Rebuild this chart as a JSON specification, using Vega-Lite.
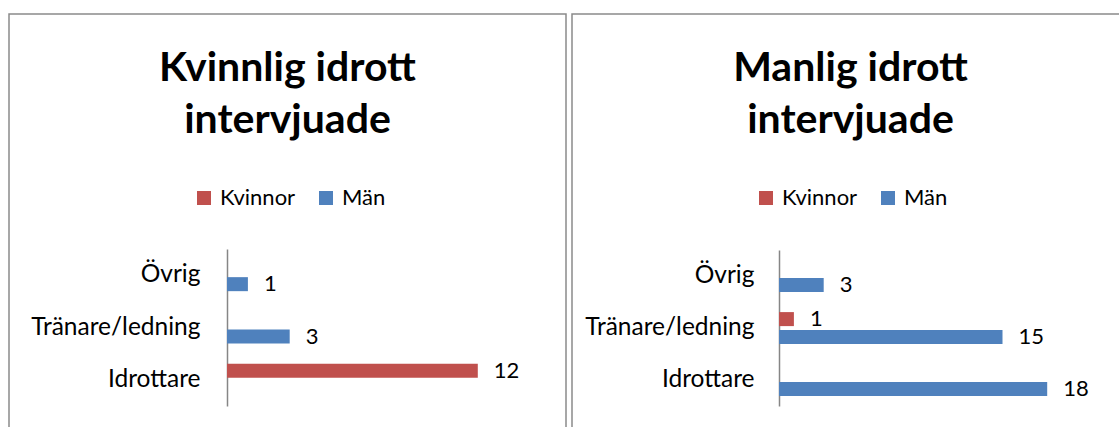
{
  "$schema": "https://vega.github.io/schema/vega-lite/v6.json",
  "padding": {"left": 8, "top": 13, "right": 0, "bottom": 0},
  "background": "white",
  "config": {
    "font": "Lato",
    "view": {"stroke": "#8a8a8a", "strokeWidth": 1.5},
    "concat": {"spacing": 4}
  },
  "datasets": {
    "kvinnlig": [
      {"roll": "Övrig", "kon": "Män", "antal": 1},
      {"roll": "Tränare/ledning", "kon": "Män", "antal": 3},
      {"roll": "Idrottare", "kon": "Kvinnor", "antal": 12}
    ],
    "manlig": [
      {"roll": "Övrig", "kon": "Män", "antal": 3},
      {"roll": "Tränare/ledning", "kon": "Kvinnor", "antal": 1},
      {"roll": "Tränare/ledning", "kon": "Män", "antal": 15},
      {"roll": "Idrottare", "kon": "Män", "antal": 18}
    ]
  },
  "hconcat": [
    {
      "width": 557,
      "height": 420,
      "title": {"text": ["Kvinnlig idrott", "intervjuade"], "fontSize": 41, "fontWeight": "bold", "font": "Lato", "color": "black", "anchor": "middle", "frame": "group", "offset": -128, "lineHeight": 52},
      "data": {"name": "kvinnlig"},
      "encoding": {
        "y": {"field": "roll", "type": "nominal", "sort": ["Övrig", "Tränare/ledning", "Idrottare"],
          "scale": {"range": [235, 392], "paddingInner": 0.3885, "paddingOuter": 0.194},
          "axis": {"title": null, "orient": "left", "offset": -218, "ticks": false, "domainColor": "#868686", "domainWidth": 1.5, "labelFontSize": 24.5, "labelColor": "black", "labelPadding": 27, "labelFont": "Lato"}},
        "yOffset": {"field": "kon", "type": "nominal", "sort": ["Kvinnor", "Män"], "scale": {"domain": ["Kvinnor", "Män"], "paddingInner": 0.222, "paddingOuter": 0}},
        "x": {"field": "antal", "type": "quantitative", "scale": {"domain": [0, 14], "range": [218, 510.6]}, "axis": null}
      },
      "layer": [
        {"mark": {"type": "bar"},
         "encoding": {"color": {"field": "kon", "type": "nominal", "scale": {"domain": ["Kvinnor", "Män"], "range": ["#C0504D", "#4F81BD"]},
           "legend": {"title": null, "orient": "none", "legendX": 184, "legendY": 173, "direction": "horizontal", "symbolType": "square", "symbolSize": 196, "symbolStrokeWidth": 0, "symbolOpacity": 1, "labelFontSize": 22, "labelFont": "Lato", "labelColor": "black", "labelOffset": 5, "columnPadding": 19, "padding": 0}}}},
        {"mark": {"type": "text", "align": "left", "baseline": "middle", "dx": 16, "fontSize": 22, "color": "black"},
         "encoding": {"text": {"field": "antal", "type": "quantitative"}}}
      ]
    },
    {
      "width": 557,
      "height": 420,
      "title": {"text": ["Manlig idrott", "intervjuade"], "fontSize": 41, "fontWeight": "bold", "font": "Lato", "color": "black", "anchor": "middle", "frame": "group", "offset": -128, "lineHeight": 52},
      "data": {"name": "manlig"},
      "encoding": {
        "y": {"field": "roll", "type": "nominal", "sort": ["Övrig", "Tränare/ledning", "Idrottare"],
          "scale": {"range": [236, 392], "paddingInner": 0.3885, "paddingOuter": 0.194},
          "axis": {"title": null, "orient": "left", "offset": -207, "ticks": false, "domainColor": "#868686", "domainWidth": 1.5, "labelFontSize": 24.5, "labelColor": "black", "labelPadding": 25, "labelFont": "Lato"}},
        "yOffset": {"field": "kon", "type": "nominal", "sort": ["Kvinnor", "Män"], "scale": {"domain": ["Kvinnor", "Män"], "paddingInner": 0.222, "paddingOuter": 0}},
        "x": {"field": "antal", "type": "quantitative", "scale": {"domain": [0, 20], "range": [207, 505]}, "axis": null}
      },
      "layer": [
        {"mark": {"type": "bar"},
         "encoding": {"color": {"field": "kon", "type": "nominal", "scale": {"domain": ["Kvinnor", "Män"], "range": ["#C0504D", "#4F81BD"]},
           "legend": {"title": null, "orient": "none", "legendX": 183, "legendY": 173, "direction": "horizontal", "symbolType": "square", "symbolSize": 196, "symbolStrokeWidth": 0, "symbolOpacity": 1, "labelFontSize": 22, "labelFont": "Lato", "labelColor": "black", "labelOffset": 5, "columnPadding": 19, "padding": 0}}}},
        {"mark": {"type": "text", "align": "left", "baseline": "middle", "dx": 16, "fontSize": 22, "color": "black"},
         "encoding": {"text": {"field": "antal", "type": "quantitative"}}}
      ]
    }
  ],
  "resolve": {"scale": {"x": "independent", "y": "independent"}, "legend": {"color": "independent"}}
}
